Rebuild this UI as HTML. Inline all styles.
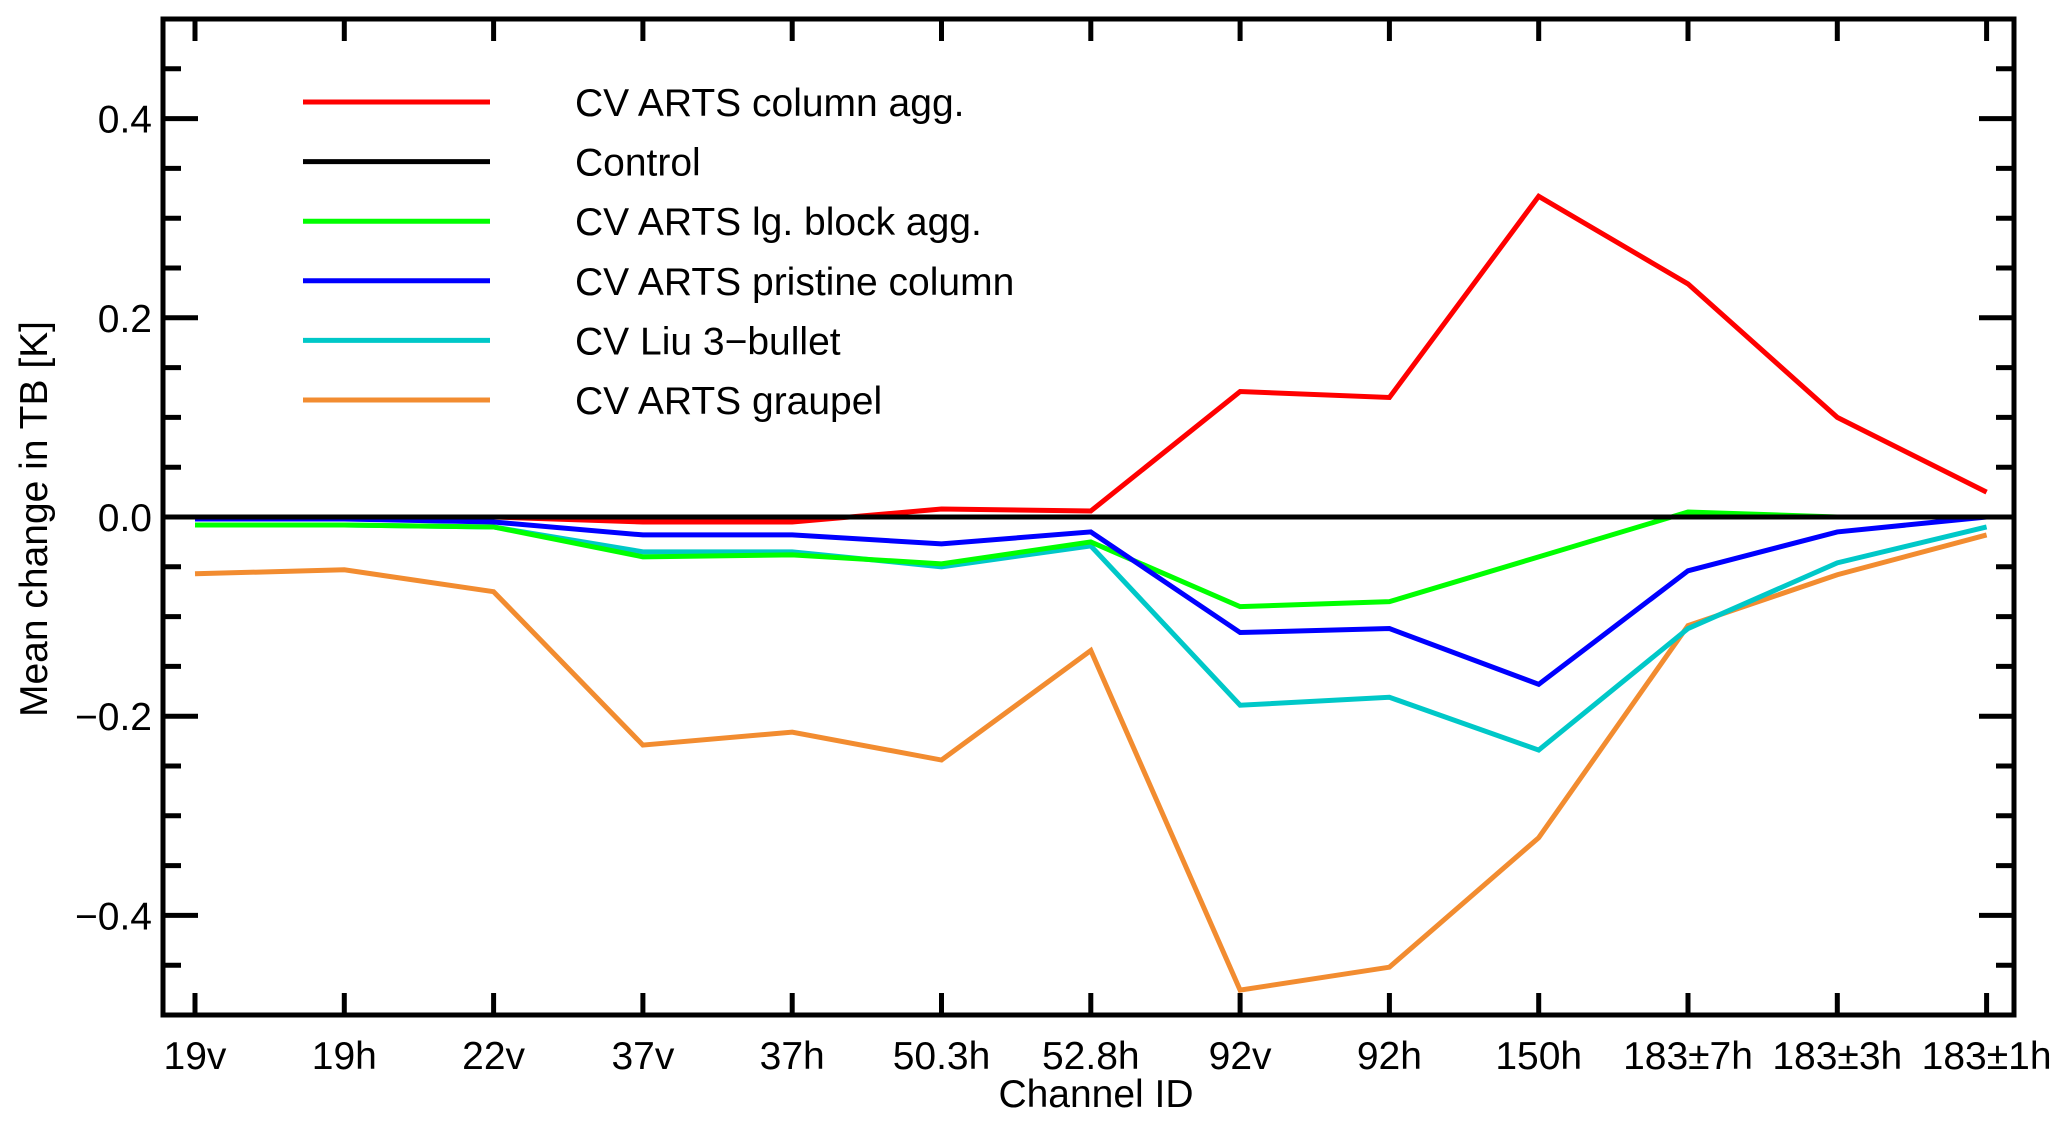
<!DOCTYPE html>
<html><head><meta charset="utf-8"><style>
html,body{margin:0;padding:0;background:#fff;}
svg{display:block;font-family:"Liberation Sans",sans-serif;}
</style></head><body>
<svg id="chart" width="2067" height="1124" viewBox="0 0 2067 1124"></svg>
<script>
const categories=["19v","19h","22v","37v","37h","50.3h","52.8h","92v","92h","150h","183\u00b17h","183\u00b13h","183\u00b11h"];
const seriesNames=["CV ARTS column agg.","Control","CV ARTS lg. block agg.","CV ARTS pristine column","CV Liu 3\u2212bullet","CV ARTS graupel"];
const seriesColors=["#ff0000","#000000","#00ff00","#0000ff","#00c8c8","#f28c30"];
const redValues=[0,0,0,-0.005,-0.005,0.008,0.006,0.126,0.12,0.322,0.234,0.10,0.025];
const controlValues=[0,0,0,0,0,0,0,0,0,0,0,0,0];
const greenValues=[-0.008,-0.008,-0.01,-0.04,-0.038,-0.047,-0.025,-0.09,-0.085,-0.04,0.005,0,0];
const blueValues=[-0.002,-0.002,-0.005,-0.018,-0.018,-0.027,-0.015,-0.116,-0.112,-0.168,-0.054,-0.015,0];
const cyanValues=[-0.008,-0.008,-0.01,-0.035,-0.035,-0.05,-0.029,-0.189,-0.181,-0.234,-0.112,-0.046,-0.01];
const orangeValues=[-0.057,-0.053,-0.075,-0.229,-0.216,-0.244,-0.134,-0.475,-0.452,-0.322,-0.109,-0.058,-0.018];
const yTickValues=[0.4,0.2,0.0,-0.2,-0.4];
const yTickLabels=["0.4","0.2","0.0","\u22120.2","\u22120.4"];

const NS="http://www.w3.org/2000/svg";
const svg=document.getElementById('chart');
const L=163,R=2014,T=19,B=1015,yMin=-0.5,yMax=0.5;
const x0=195,dx=149.3;
function xScale(i){return x0+i*dx;}
function yScale(v){return B-(v-yMin)/(yMax-yMin)*(B-T);}
function mk(tag,attrs,parent){const e=document.createElementNS(NS,tag);for(const k in attrs)e.setAttribute(k,attrs[k]);(parent||svg).appendChild(e);return e;}

const allSeries=[redValues,controlValues,greenValues,blueValues,cyanValues,orangeValues];
const drawOrder=[5,4,2,3,0,1];
drawOrder.forEach(s=>{
  const pts=allSeries[s].map((v,i)=>xScale(i)+","+yScale(v)).join(" ");
  const p=mk('polyline',{points:pts,fill:'none',stroke:seriesColors[s],'stroke-width':5,'stroke-linejoin':'miter'});
  
  
});

const frame=mk('rect',{x:L,y:T,width:R-L,height:B-T,fill:'none',stroke:'#000','stroke-width':5});



for(let k=-10;k<=10;k++){
  const v=k*0.05; if(Math.abs(v)>=0.5-1e-9) continue;
  const major=(k%4===0);
  const len=major?35:18; const y=yScale(v);
  mk('line',{x1:L,x2:L+len,y1:y,y2:y,stroke:'#000','stroke-width':5});
  mk('line',{x1:R-len,x2:R,y1:y,y2:y,stroke:'#000','stroke-width':5});
}
yTickValues.forEach((v,i)=>{
  const t=mk('text',{x:152,y:yScale(v)+14,'text-anchor':'end','font-size':39,fill:'#000'});
  t.textContent=yTickLabels[i];
  
  
});
categories.forEach((c,i)=>{
  const x=xScale(i);
  mk('line',{x1:x,x2:x,y1:B,y2:B-22,stroke:'#000','stroke-width':5});
  mk('line',{x1:x,x2:x,y1:T,y2:T+22,stroke:'#000','stroke-width':5});
  const t=mk('text',{x:x,y:1069,'text-anchor':'middle','font-size':39,fill:'#000'});
  t.textContent=c;
  
  
});
const xt=mk('text',{x:1096,y:1107,'text-anchor':'middle','font-size':39,fill:'#000'});
xt.textContent="Channel ID";


const yt=mk('text',{x:0,y:0,'text-anchor':'middle','font-size':39,fill:'#000',transform:'translate(47,519) rotate(-90)'});
yt.textContent="Mean change in TB [K]";



seriesNames.forEach((n,i)=>{
  const y=102+i*59.6;
  const g=mk('g',{});
  
  
  mk('line',{x1:303,x2:490,y1:y,y2:y,stroke:seriesColors[i],'stroke-width':5},g);
  const t=mk('text',{x:575,y:y+14,'font-size':39,fill:'#000'},g);
  t.textContent=n;
});
</script>
</body></html>
